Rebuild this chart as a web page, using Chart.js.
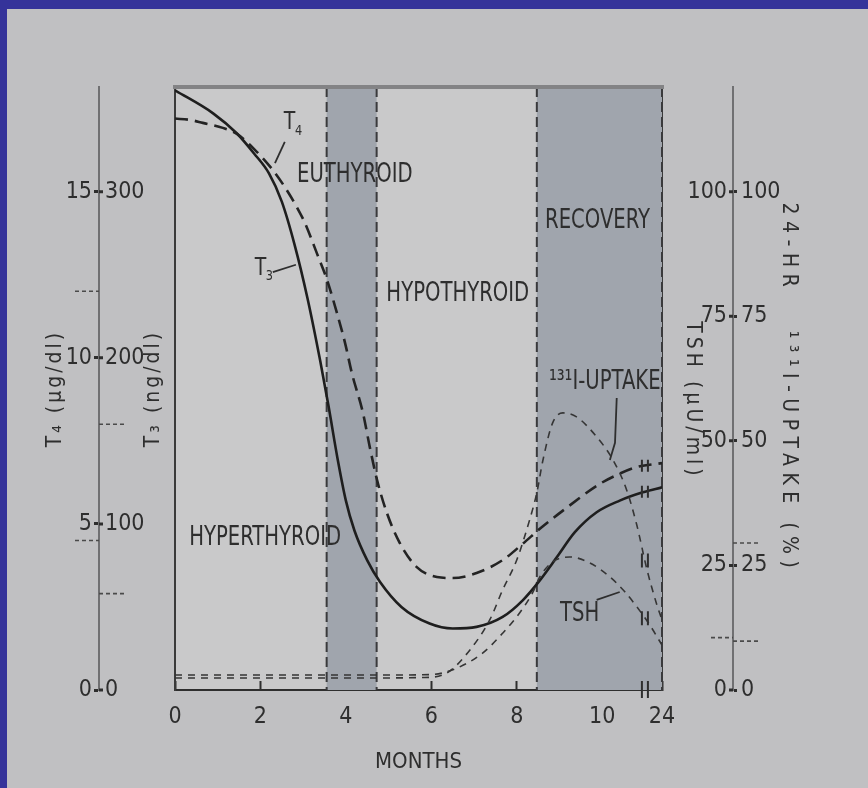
<!DOCTYPE html>
<html>
<head>
<meta charset="utf-8">
<script src="https://cdn.jsdelivr.net/npm/chart.js@4"></script>
<style>
html,body{margin:0;padding:0;background:#35339a;overflow:hidden;}
canvas{display:block;}
</style>
</head>
<body>
<canvas id="c" width="868" height="788"></canvas>
<script>
// ---------------- data ----------------
const monthTicks = [0, 2, 4, 6, 8, 10, 11.4];
const monthTickLabels = ['0', '2', '4', '6', '8', '10', '24'];
const t4Ticks = [0, 5, 10, 15];
const t3Ticks = [0, 100, 200, 300];
const tshTicks = [0, 25, 50, 75, 100];
const uptakeTicks = [0, 25, 50, 75, 100];

const t4Months = [0, 0.35, 0.65, 1.12, 1.45, 1.87, 2.29, 2.57, 2.85, 3.04, 3.32, 3.56, 3.79, 3.98, 4.14, 4.4, 4.56, 4.73, 4.96, 5.26, 5.66, 6.13, 6.5, 7.06, 7.67, 8.14, 8.54, 9.08, 9.94, 10.34, 10.81, 11.4];
const t4Values = [17.2, 17.16, 17.07, 16.92, 16.74, 16.26, 15.65, 15.14, 14.54, 14.06, 13.15, 12.34, 11.35, 10.45, 9.54, 8.34, 7.31, 6.32, 5.33, 4.43, 3.7, 3.4, 3.37, 3.52, 3.91, 4.4, 4.85, 5.4, 6.2, 6.47, 6.71, 6.83];

const t3Months = [0, 0.9, 1.45, 1.85, 2.2, 2.5, 2.8, 3.1, 3.4, 3.6, 3.8, 4.0, 4.2, 4.5, 4.8, 5.3, 5.96, 6.5, 7.06, 7.67, 8.14, 8.54, 8.94, 9.36, 9.87, 10.41, 10.95, 11.4];
const t3Values = [361, 347, 335, 323, 311, 294, 268, 236, 198, 170, 140, 114, 96, 78, 65, 50, 40, 37, 38, 44, 54, 66, 80, 95, 107, 114, 119, 122];

const tshMonths = [0, 1, 2, 3, 4, 5, 6, 6.6, 7.2, 7.67, 8.07, 8.37, 8.54, 8.84, 9.24, 9.71, 10.18, 10.53, 10.81, 11.11, 11.4];
const tshValues = [3, 3, 3, 3, 3, 3, 3.1, 4.4, 7.4, 11.4, 15.5, 19.5, 22.7, 25.7, 26.7, 25.5, 22.7, 19.7, 16.7, 13.1, 9];

const uptakeMonths = [0, 2, 4, 5.8, 6.36, 6.9, 7.37, 7.67, 8.0, 8.3, 8.47, 8.61, 8.84, 9.08, 9.4, 9.87, 10.25, 10.57, 10.81, 11.05, 11.28, 11.4];
const uptakeValues = [2.4, 2.4, 2.4, 2.5, 3.4, 8.0, 14.1, 20.1, 26.1, 34.1, 39.6, 46.0, 53.6, 55.6, 54.8, 50.8, 46.2, 40.2, 33.1, 24.1, 17.1, 14.1];

const euthyroidBand = [3.55, 4.72];
const recoveryBand = [8.47, 11.4];
const breakMonth = 11.0;

// normal-range reference marks on the side axes
const t4RefMarks = [12, 4.5];
const t3RefMarks = [160, 58];
const tshRefMarks = [10.5];
const uptakeRefMarks = [29.5, 9.8];

// ---------------- styling / layout ----------------
const FONT = '"Liberation Sans Narrow", "DejaVu Sans Condensed", "Liberation Sans", Arial, sans-serif';
const INK = '#2e2e2e';
Chart.defaults.font.family = FONT;
Chart.defaults.color = INK;

// annotation text (positions in months / T4 units)
const plotLabels = [
  {text: 'EUTHYROID', m: 4.21, v: 15.5},
  {text: 'HYPOTHYROID', m: 6.62, v: 11.92},
  {text: 'RECOVERY', m: 9.89, v: 14.12},
  {text: '¹³¹I-UPTAKE', m: 10.06, v: 9.27},
  {text: 'HYPERTHYROID', m: 2.11, v: 4.58},
  {text: 'TSH', m: 9.47, v: 2.29}
];
const subLabels = [
  {main: 'T', sub: '4', m: 2.68, v: 17.07},
  {main: 'T', sub: '3', m: 2.0, v: 12.7}
];
const pointers = [
  [[2.57, 16.5], [2.34, 15.86]],
  [[2.29, 12.58], [2.83, 12.8]],
  [[9.87, 2.71], [10.41, 2.95]],
  [[10.34, 8.79], [10.3, 7.44], [10.18, 6.92]]
];

function pts(ms, vs) { return ms.map((m, i) => ({x: m, y: vs[i]})); }
function setTicks(arr) { return s => { s.ticks = arr.map(v => ({value: v})); }; }
function spacedTitle(px) {
  return s => {
    if (s._spaced) return;
    const orig = s.drawTitle;
    s.drawTitle = function () {
      const c = this.ctx; c.save(); c.letterSpacing = px + 'px'; orig.apply(this, arguments); c.restore();
    };
    s._spaced = true;
  };
}
function interpY(elems, px) {
  for (let i = 0; i < elems.length - 1; i++) {
    const a = elems[i], b = elems[i + 1];
    if (px >= a.x && px <= b.x) {
      const t = (px - a.x) / ((b.x - a.x) || 1);
      return a.y + t * (b.y - a.y);
    }
  }
  return elems[elems.length - 1].y;
}
function narrowText(ctx, text, x, y, size, sx) {
  ctx.save();
  ctx.translate(x, y);
  ctx.scale(sx, 1);
  ctx.font = size + 'px ' + FONT;
  ctx.fillText(text, 0, 0);
  ctx.restore();
}

const decor = {
  id: 'decor',
  beforeDraw(chart) {
    const {ctx, chartArea: a, width, height} = chart;
    ctx.save();
    ctx.fillStyle = '#c0c0c2';
    ctx.fillRect(0, 0, width, height);
    ctx.fillStyle = '#c9c9ca';
    ctx.fillRect(a.left, a.top, a.right - a.left, a.bottom - a.top);
    ctx.fillStyle = '#35339a';
    ctx.fillRect(0, 0, width, 9);
    ctx.fillRect(0, 0, 7, height);
    ctx.restore();
  },
  beforeDatasetsDraw(chart) {
    const {ctx, chartArea: a, scales: {x}} = chart;
    ctx.save();
    [euthyroidBand, recoveryBand].forEach(b => {
      const x0 = x.getPixelForValue(b[0]), x1 = x.getPixelForValue(b[1]);
      ctx.fillStyle = '#a0a5ad';
      ctx.fillRect(x0, a.top, x1 - x0, a.bottom - a.top);
      ctx.strokeStyle = '#3a3a3c';
      ctx.lineWidth = 2;
      ctx.setLineDash([10, 5]);
      [x0, x1].forEach(xx => {
        ctx.beginPath(); ctx.moveTo(xx, a.top); ctx.lineTo(xx, a.bottom); ctx.stroke();
      });
    });
    ctx.restore();
  },
  afterDatasetsDraw(chart) {
    const {ctx, chartArea: a, scales: {x, yT4, yT3, yTSH, yUp}} = chart;
    ctx.save();
    // top frame
    ctx.strokeStyle = '#838385';
    ctx.lineWidth = 4;
    ctx.beginPath(); ctx.moveTo(a.left - 2, a.top); ctx.lineTo(a.right + 2, a.top); ctx.stroke();

    // break marks on curves and axis
    const bx = x.getPixelForValue(breakMonth);
    ctx.strokeStyle = INK;
    ctx.lineWidth = 2;
    chart.data.datasets.forEach((ds, i) => {
      const by = interpY(chart.getDatasetMeta(i).data, bx);
      const h = i >= 2 ? 6 : 7;
      ctx.beginPath();
      ctx.moveTo(bx - 3, by - h); ctx.lineTo(bx - 3, by + h);
      ctx.moveTo(bx + 3, by - h); ctx.lineTo(bx + 3, by + h);
      ctx.stroke();
    });
    ctx.beginPath();
    ctx.moveTo(bx - 3, a.bottom - 9); ctx.lineTo(bx - 3, a.bottom + 8);
    ctx.moveTo(bx + 3, a.bottom - 9); ctx.lineTo(bx + 3, a.bottom + 8);
    ctx.stroke();

    // pointer lines
    ctx.lineWidth = 1.8;
    pointers.forEach(p => {
      ctx.beginPath();
      p.forEach((q, k) => {
        const px = x.getPixelForValue(q[0]), py = yT4.getPixelForValue(q[1]);
        if (k === 0) ctx.moveTo(px, py); else ctx.lineTo(px, py);
      });
      ctx.stroke();
    });

    // text labels inside plot
    ctx.fillStyle = INK;
    ctx.textAlign = 'center';
    ctx.textBaseline = 'middle';
    plotLabels.forEach(l => narrowText(ctx, l.text, x.getPixelForValue(l.m), yT4.getPixelForValue(l.v), 26, 0.84));
    subLabels.forEach(l => {
      const px = x.getPixelForValue(l.m), py = yT4.getPixelForValue(l.v);
      narrowText(ctx, l.main, px, py, 25, 0.84);
      narrowText(ctx, l.sub, px + 9, py + 8, 14, 0.9);
    });

    // inner side-axis labels (T3 right of left line, TSH left of right line)
    ctx.font = '23px ' + FONT;
    ctx.textAlign = 'left';
    t3Ticks.forEach(v => ctx.fillText(String(v), yT3.left + 6, yT3.getPixelForValue(v)));
    ctx.textAlign = 'right';
    tshTicks.forEach(v => ctx.fillText(String(v), yTSH.right - 6, yTSH.getPixelForValue(v)));

    // half tick marks on the inner side of the side axis lines
    ctx.lineWidth = 3;
    ctx.beginPath();
    t3Ticks.forEach(v => { const py = yT3.getPixelForValue(v); ctx.moveTo(yT3.left, py); ctx.lineTo(yT3.left + 4, py); });
    tshTicks.forEach(v => { const py = yTSH.getPixelForValue(v); ctx.moveTo(yTSH.right - 4, py); ctx.lineTo(yTSH.right, py); });
    ctx.stroke();

    // normal-range dashed marks
    ctx.lineWidth = 1.6;
    ctx.strokeStyle = '#4a4a4a';
    ctx.setLineDash([4, 3]);
    ctx.beginPath();
    t4RefMarks.forEach(v => { const py = yT4.getPixelForValue(v); ctx.moveTo(yT4.right - 24, py); ctx.lineTo(yT4.right, py); });
    t3RefMarks.forEach(v => { const py = yT3.getPixelForValue(v); ctx.moveTo(yT3.left, py); ctx.lineTo(yT3.left + 26, py); });
    tshRefMarks.forEach(v => { const py = yTSH.getPixelForValue(v); ctx.moveTo(yTSH.right - 22, py); ctx.lineTo(yTSH.right, py); });
    uptakeRefMarks.forEach(v => { const py = yUp.getPixelForValue(v); ctx.moveTo(yUp.left, py); ctx.lineTo(yUp.left + 26, py); });
    ctx.stroke();
    ctx.setLineDash([]);

    // inner titles
    ctx.font = '21px ' + FONT;
    ctx.textAlign = 'center';
    const cy = (a.top + a.bottom) / 2;
    ctx.save();
    ctx.translate(yT3.right - 21, cy);
    ctx.rotate(-Math.PI / 2);
    ctx.letterSpacing = '3px';
    ctx.fillText('T₃ (ng/dl)', 0, 0);
    ctx.restore();
    ctx.save();
    ctx.translate(yTSH.left + 30, cy + 12);
    ctx.rotate(Math.PI / 2);
    ctx.letterSpacing = '4px';
    ctx.fillText('TSH (µU/ml)', 0, 0);
    ctx.restore();

    ctx.restore();
  }
};

const lineStyle = {pointRadius: 0, fill: false, cubicInterpolationMode: 'monotone'};

new Chart(document.getElementById('c'), {
  type: 'line',
  data: {
    datasets: [
      Object.assign({label: 'TSH', data: pts(tshMonths, tshValues), yAxisID: 'yTSH',
        borderColor: '#353535', borderWidth: 1.6, borderDash: [7, 6]}, lineStyle),
      Object.assign({label: '131I-uptake', data: pts(uptakeMonths, uptakeValues), yAxisID: 'yUp',
        borderColor: '#353535', borderWidth: 1.6, borderDash: [7, 6]}, lineStyle),
      Object.assign({label: 'T4', data: pts(t4Months, t4Values), yAxisID: 'yT4',
        borderColor: '#232323', borderWidth: 2.6, borderDash: [13, 7]}, lineStyle),
      Object.assign({label: 'T3', data: pts(t3Months, t3Values), yAxisID: 'yT3',
        borderColor: '#1e1e1e', borderWidth: 2.6}, lineStyle)
    ]
  },
  options: {
    responsive: false,
    animation: false,
    events: [],
    layout: {padding: {left: 10, right: 40, top: 87, bottom: 8}},
    plugins: {legend: {display: false}, tooltip: {enabled: false}},
    scales: {
      x: {
        type: 'linear', position: 'bottom', min: 0, max: 11.4,
        afterBuildTicks: setTicks(monthTicks),
        afterFit: s => { s.height = 90; },
        ticks: {autoSkip: false, maxRotation: 0, padding: 22, color: INK, font: {size: 23},
          callback: v => { const i = monthTicks.indexOf(v); return i >= 0 ? monthTickLabels[i] : ''; }},
        grid: {drawOnChartArea: false, tickLength: -9, tickWidth: 2, tickColor: INK},
        border: {color: '#2e2e2e', width: 2},
        title: {display: true, text: 'MONTHS', color: INK, font: {size: 22}, padding: {top: 0, bottom: 5}}
      },
      yT4: {
        type: 'linear', position: 'left', weight: 1, min: 0, max: 18.15,
        afterBuildTicks: setTicks(t4Ticks),
        afterFit: s => { s.width = 89; },
        afterUpdate: spacedTitle(3),
        ticks: {padding: 2, color: INK, font: {size: 23}},
        grid: {drawOnChartArea: false, tickLength: 5, tickWidth: 3, tickColor: INK},
        border: {color: '#707072', width: 2},
        title: {display: true, text: 'T₄ (µg/dl)', color: INK, font: {size: 21}, padding: {top: 33, bottom: 0}}
      },
      yT3: {
        type: 'linear', position: 'left', weight: 0, min: 0, max: 363,
        afterBuildTicks: setTicks(t3Ticks),
        afterFit: s => { s.width = 76; },
        ticks: {display: false},
        grid: {display: false, drawTicks: false},
        border: {color: '#3a3a3a', width: 2}
      },
      yTSH: {
        type: 'linear', position: 'right', weight: 0, min: 0, max: 121,
        afterBuildTicks: setTicks(tshTicks),
        afterFit: s => { s.width = 71; },
        ticks: {display: false},
        grid: {display: false, drawTicks: false},
        border: {color: '#3a3a3a', width: 2, dash: [10, 5]}
      },
      yUp: {
        type: 'linear', position: 'right', weight: 1, min: 0, max: 121,
        afterBuildTicks: setTicks(uptakeTicks),
        afterFit: s => { s.width = 95; },
        afterUpdate: spacedTitle(6.5),
        ticks: {padding: 4, color: INK, font: {size: 23}},
        grid: {drawOnChartArea: false, tickLength: 4, tickWidth: 3, tickColor: INK},
        border: {color: '#707072', width: 2},
        title: {display: true, text: '24-HR   ¹³¹I-UPTAKE (%)', color: INK, font: {size: 21}, padding: {top: 27, bottom: 0}}
      }
    }
  },
  plugins: [decor]
});
</script>
</body>
</html>
